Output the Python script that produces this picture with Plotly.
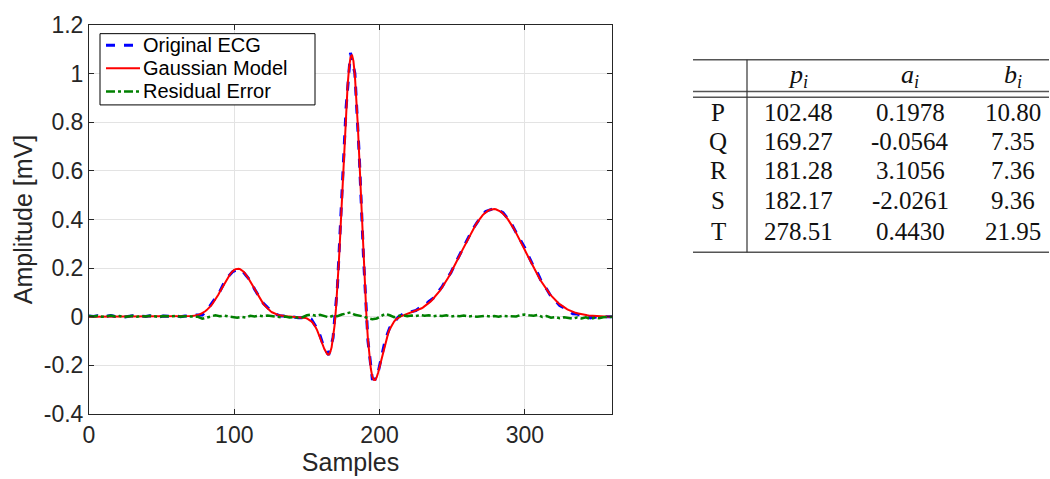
import numpy as np
import plotly.graph_objects as go

# ---------------- data ----------------
waves = ["P", "Q", "R", "S", "T"]
p_vals = [102.48, 169.27, 181.28, 182.17, 278.51]
a_vals = [0.1978, -0.0564, 3.1056, -2.0261, 0.4430]
b_vals = [10.80, 7.35, 7.36, 9.36, 21.95]
p_text = ["102.48", "169.27", "181.28", "182.17", "278.51"]
a_text = ["0.1978", "-0.0564", "3.1056", "-2.0261", "0.4430"]
b_text = ["10.80", "7.35", "7.36", "9.36", "21.95"]

series_names = ["Original ECG", "Gaussian Model", "Residual Error"]

# residual error, one value every 3 samples
residual = [
    0.003, 0.001, 0.004, 0.000, 0.002, 0.005, 0.001, 0.003, -0.001, 0.002,
    0.004, 0.000, 0.003, 0.001, 0.004, 0.002, -0.001, 0.003, 0.001, 0.002,
    0.004, 0.000, 0.002, 0.001, 0.003, 0.000, -0.008, -0.003, 0.003, 0.006,
    0.002, 0.005, 0.001, -0.002, -0.004, 0.000, -0.003, 0.004, 0.001, 0.005,
    0.002, 0.005, 0.003, 0.000, -0.002, 0.001, -0.003, -0.001, -0.004, -0.002,
    0.006, 0.009, 0.004, 0.008, 0.002, -0.002, 0.004, 0.002, 0.009, 0.012,
    0.018, 0.008, 0.006, 0.001, -0.006, -0.010, -0.007, 0.004, 0.012, 0.006,
    -0.002, 0.003, 0.006, 0.002, 0.005, 0.003, 0.007, 0.004, 0.006, 0.002,
    0.005, 0.003, 0.006, 0.001, 0.004, 0.002, 0.005, 0.001, 0.003, 0.000,
    0.002, 0.004, 0.001, 0.003, 0.000, 0.004, 0.002, 0.003, 0.001, 0.007,
    0.009, 0.006, 0.004, 0.008, -0.001, 0.003, -0.004, -0.001, -0.006, -0.002,
    -0.005, -0.008, -0.003, -0.007, -0.002, -0.009, -0.004, -0.006, -0.002, -0.001,
    0.000,
]
x_res = np.array([3 * i for i in range(len(residual))], dtype=float)
x_model = np.arange(0, 361, 1.0)


def gauss_model(x):
    y = np.zeros_like(x)
    for p, a, b in zip(p_vals, a_vals, b_vals):
        y = y + a * np.exp(-((x - p) ** 2) / (2 * b ** 2))
    return y


model = gauss_model(x_model)
original = gauss_model(x_res) + np.array(residual)

# ---------------- layout geometry ----------------
W, H = 1050, 479
L, R, T, B = 89, 612, 13, 417


def px(xp):
    return (xp - L) / (R - L)


def py(yp):
    return (B - yp) / (B - T)


sans = "Liberation Sans, Arial, Helvetica, sans-serif"
styles = [
    dict(color="#0000ff", width=3, dash="dash"),
    dict(color="#ff0000", width=2),
    dict(color="#008000", width=2.5, dash="dashdot"),
]

fig = go.Figure()
fig.add_trace(go.Scatter(x=x_res, y=original, mode="lines", name=series_names[0],
                         line=styles[0], showlegend=False))
fig.add_trace(go.Scatter(x=x_model, y=model, mode="lines", name=series_names[1],
                         line=styles[1], showlegend=False))
fig.add_trace(go.Scatter(x=x_res, y=residual, mode="lines", name=series_names[2],
                         line=styles[2], showlegend=False))

axis_common = dict(
    showgrid=True, gridcolor="#e3e3e3", gridwidth=1,
    showline=True, linecolor="#262626", linewidth=1, mirror="allticks",
    ticks="inside", ticklen=5, tickcolor="#262626",
    tickfont=dict(family=sans, size=23, color="#262626"),
    zeroline=False,
)
fig.update_xaxes(range=[0, 360], tickvals=[0, 100, 200, 300],
                 title=dict(text="Samples", standoff=2,
                            font=dict(family=sans, size=25, color="#262626")),
                 **axis_common)
fig.update_yaxes(range=[-0.4, 1.2], tickvals=[-0.4, -0.2, 0, 0.2, 0.4, 0.6, 0.8, 1.0, 1.2],
                 ticktext=["-0.4", "-0.2", "0", "0.2", "0.4", "0.6", "0.8", "1", "1.2"],
                 title=dict(text="Amplitude [mV]", standoff=4,
                            font=dict(family=sans, size=25, color="#262626")),
                 **axis_common)

fig.update_layout(
    width=W, height=H,
    margin=dict(l=L, r=W - R, t=T, b=H - B),
    plot_bgcolor="white", paper_bgcolor="white",
    showlegend=False,
)

shapes = []
ann = []

# ---------------- legend (drawn inside the axes, MATLAB style) ----------------
shapes.append(dict(type="rect", xref="paper", yref="paper", x0=px(100), x1=px(315), y0=py(22), y1=py(96),
                   line=dict(color="#000000", width=1), fillcolor="white", layer="above"))
leg_rows = [34, 58, 82]
for name, st, ry in zip(series_names, styles, leg_rows):
    shapes.append(dict(type="line", xref="paper", yref="paper", x0=px(106), x1=px(140), y0=py(ry), y1=py(ry),
                       line=st, layer="above"))
    ann.append(dict(x=px(142), y=py(ry), xref="paper", yref="paper", text=name, showarrow=False,
                    xanchor="left", yanchor="middle", borderpad=0,
                    font=dict(family=sans, size=20, color="#000000")))

# ---------------- table ----------------
line_style = dict(color="#555555", width=1.5)
tx0, tx1 = 693, 1049
for yy in [49, 82, 88, 249]:
    shapes.append(dict(type="line", xref="paper", yref="paper", x0=px(tx0), x1=px(tx1), y0=py(yy), y1=py(yy),
                       line=line_style))
shapes.append(dict(type="line", xref="paper", yref="paper", x0=px(747), x1=px(747), y0=py(49), y1=py(249),
                   line=dict(color="#333333", width=1.2)))

serif = "Liberation Serif, Times New Roman, serif"
col_x = [718, 798, 910, 1013]
row_y = [104, 134, 164, 195, 227]
header_y = 66
headers = ["<i>p</i><sub><i>i</i></sub>", "<i>a</i><sub><i>i</i></sub>", "<i>b</i><sub><i>i</i></sub>"]
for cx, h in zip(col_x[1:], headers):
    ann.append(dict(x=px(cx), y=py(header_y), xref="paper", yref="paper", text=h, showarrow=False,
                    xanchor="center", yanchor="middle", font=dict(family=serif, size=26, color="#111111")))
for i, w in enumerate(waves):
    vals = [w, p_text[i], a_text[i], b_text[i]]
    for cx, v in zip(col_x, vals):
        ann.append(dict(x=px(cx), y=py(row_y[i]), xref="paper", yref="paper", text=v, showarrow=False,
                        xanchor="center", yanchor="middle", font=dict(family=serif, size=25, color="#111111")))

fig.update_layout(shapes=shapes, annotations=ann)

fig.write_html("out.html")
